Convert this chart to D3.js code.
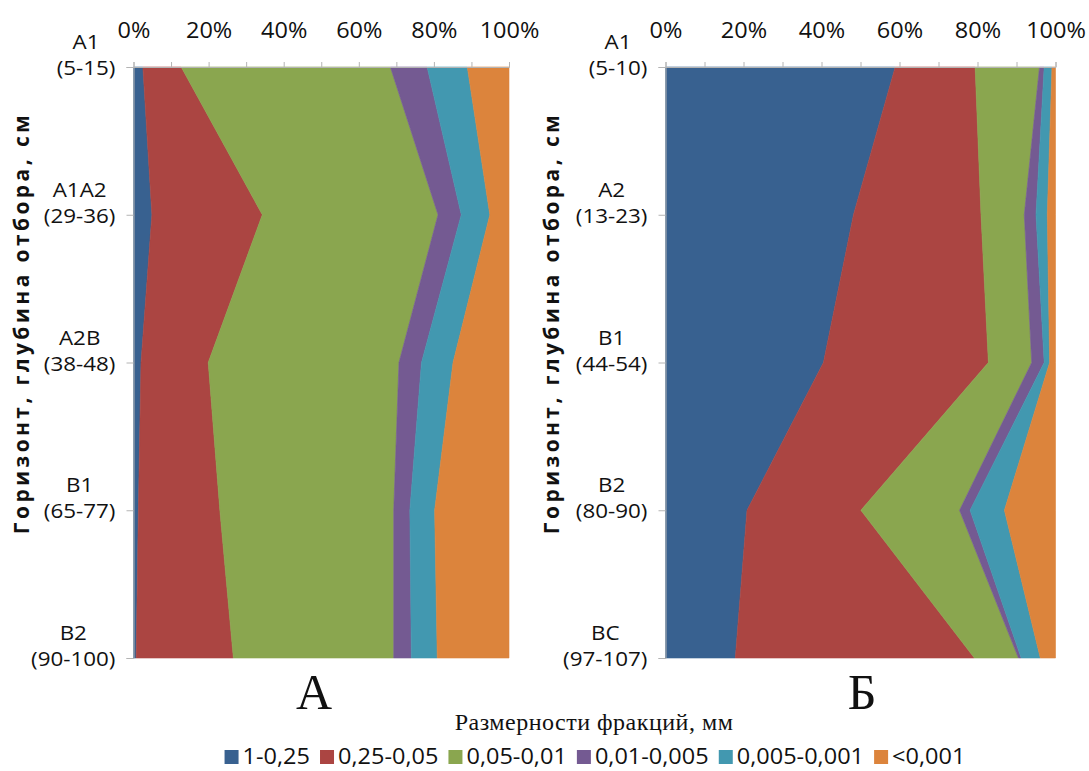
<!DOCTYPE html>
<html>
<head>
<meta charset="utf-8">
<script src="https://cdn.jsdelivr.net/npm/d3@7"></script>
<style>
  body { margin: 0; background: #fff; }
  svg { display: block; }
  .sans { font-family: "Open Sans", sans-serif; fill: #111; }
  .serif { font-family: "Liberation Serif", "Times New Roman", serif; fill: #111; }
</style>
</head>
<body>
<svg id="chart" width="1089" height="771"></svg>
<script>
// Particle-size fractions, mm
const fractions = ["1-0,25", "0,25-0,05", "0,05-0,01", "0,01-0,005", "0,005-0,001", "<0,001"];
const fractionColors = ["#386190", "#AB4542", "#8AA64F", "#745A92", "#4298B0", "#DC843C"];
const percentTicks = [0, 0.2, 0.4, 0.6, 0.8, 1];
const minorTicks = [0, 0.1, 0.2, 0.3, 0.4, 0.5, 0.6, 0.7, 0.8, 0.9, 1];

// Profile А: horizons, sampling depths (cm), fraction shares (%) per horizon
const horizonsA = ["А1", "А1А2", "А2В", "В1", "В2"];
const depthsA = ["(5-15)", "(29-36)", "(38-48)", "(65-77)", "(90-100)"];
const sharesA = [
  [2.5, 10.2, 55.7, 9.8, 10.7, 11.1],
  [4.9, 29.4, 46.8, 6.2, 7.6, 5.1],
  [2.0, 17.9, 50.8, 6.0, 8.4, 14.9],
  [1.3, 21.7, 46.3, 4.3, 6.6, 19.8],
  [0.7, 25.9, 42.7, 4.7, 6.9, 19.1]
];

// Profile Б
const horizonsB = ["А1", "А2", "В1", "В2", "ВС"];
const depthsB = ["(5-10)", "(13-23)", "(44-54)", "(80-90)", "(97-107)"];
const sharesB = [
  [58.9, 20.5, 16.5, 1.2, 2.0, 0.9],
  [48.2, 32.7, 11.1, 3.0, 2.9, 2.1],
  [40.5, 42.3, 11.1, 3.2, 1.4, 1.5],
  [20.9, 29.2, 25.3, 2.7, 8.8, 13.1],
  [17.9, 61.3, 11.3, 0.7, 4.9, 3.9]
];

const svg = d3.select("#chart");
const SX = 1.12;              // horizontal widening of the sans labels
const axisGrey = "#b4b4b4";
const plotTop = 67, plotBottom = 658;

function drawPanel(opts) {
  const { left, right, horizons, depths, shares, letter, letterX, titleX } = opts;
  const rows = shares.map((vals, i) => {
    const r = { key: horizons[i] + " " + depths[i] };
    fractions.forEach((f, j) => r[f] = vals[j]);
    return r;
  });
  const keys = rows.map(r => r.key);

  const x = d3.scaleLinear().domain([0, 1]).range([left, right]);
  const y = d3.scalePoint().domain(keys).range([plotTop, plotBottom]);

  const stack = d3.stack().keys(fractions).offset(d3.stackOffsetExpand);
  const layers = stack(rows);

  const area = d3.area()
    .y(d => y(d.data.key))
    .x0(d => x(d[0]))
    .x1(d => x(d[1]))
    .curve(d3.curveLinear);

  const g = svg.append("g");
  g.selectAll("path.layer")
    .data(layers)
    .join("path")
    .attr("class", "layer")
    .attr("fill", (d, i) => fractionColors[i])
    .attr("stroke", (d, i) => fractionColors[i])
    .attr("stroke-width", 0.6)
    .attr("d", area);

  // top percentage axis: minor marks plus labelled ticks
  const minor = g.append("g")
    .attr("transform", `translate(0,${plotTop})`)
    .call(d3.axisTop(x).tickValues(minorTicks).tickSize(5).tickFormat(""));
  minor.select(".domain").attr("stroke", axisGrey);
  minor.selectAll(".tick line").attr("stroke", axisGrey);

  const major = g.append("g")
    .attr("transform", `translate(0,${plotTop})`)
    .call(d3.axisTop(x).tickValues(percentTicks).tickSize(0).tickPadding(30).tickFormat(d3.format(".0%")));
  major.select(".domain").remove();
  major.selectAll(".tick text")
    .attr("class", "sans")
    .attr("font-size", 21)
    .attr("dy", 0)
    .attr("y", -29)
    .attr("transform", `scale(${SX},1)`);

  // left category axis, ticks only
  const yAxis = g.append("g")
    .attr("transform", `translate(${left},0)`)
    .call(d3.axisLeft(y).tickSize(7).tickFormat(""));
  yAxis.select(".domain").attr("stroke", axisGrey);
  yAxis.selectAll(".tick line").attr("stroke", axisGrey);

  // two-line horizon labels, right-aligned as a block
  const labelRight = left - 18;
  keys.forEach((k, i) => {
    const ty = y(k);
    const lg = g.append("g").attr("transform", `translate(0,${ty})`);
    const t1 = lg.append("text").attr("class", "sans").attr("font-size", 20).attr("text-anchor", "middle").text(horizons[i]);
    const t2 = lg.append("text").attr("class", "sans").attr("font-size", 20).attr("text-anchor", "middle").text(depths[i]);
    const w = Math.max(t1.node().getComputedTextLength(), t2.node().getComputedTextLength()) * SX;
    const cx = labelRight - w / 2;
    t1.attr("transform", `translate(${cx},-18) scale(${SX},1)`);
    t2.attr("transform", `translate(${cx},8) scale(${SX},1)`);
  });

  // vertical axis title
  g.append("text")
    .attr("class", "sans")
    .attr("font-size", 21)
    .attr("font-weight", "bold")
    .attr("letter-spacing", 3.4)
    .attr("text-anchor", "middle")
    .attr("transform", `translate(${titleX},323) rotate(-90)`)
    .text("Горизонт, глубина отбора, см");

  // panel letter
  g.append("text")
    .attr("class", "serif")
    .attr("font-size", 50)
    .attr("text-anchor", "middle")
    .attr("x", letterX)
    .attr("y", 709)
    .text(letter);
}

drawPanel({ left: 133.5, right: 509, horizons: horizonsA, depths: depthsA, shares: sharesA, letter: "А", letterX: 314, titleX: 29 });
drawPanel({ left: 665.5, right: 1055.5, horizons: horizonsB, depths: depthsB, shares: sharesB, letter: "Б", letterX: 862, titleX: 559 });

// common caption
svg.append("text")
  .attr("class", "serif")
  .attr("font-size", 24)
  .attr("letter-spacing", 0.5)
  .attr("text-anchor", "middle")
  .attr("x", 594)
  .attr("y", 730)
  .text("Размерности фракций, мм");

// legend laid out left to right, centred under both panels
const legend = svg.append("g");
let cursor = 0;
const LSX = 1.12;
fractions.forEach((f, i) => {
  const it = legend.append("g");
  it.append("rect").attr("width", 14).attr("height", 14).attr("y", -14).attr("fill", fractionColors[i]);
  const t = it.append("text").attr("class", "sans").attr("font-size", 21).text(f);
  const w = t.node().getComputedTextLength() * LSX;
  t.attr("transform", `translate(18,0) scale(${LSX},1)`);
  it.attr("transform", `translate(${cursor},0)`);
  cursor += 18 + w + 10;
});
const legendWidth = cursor - 10;
legend.attr("transform", `translate(${595 - legendWidth / 2},764)`);
</script>
</body>
</html>
